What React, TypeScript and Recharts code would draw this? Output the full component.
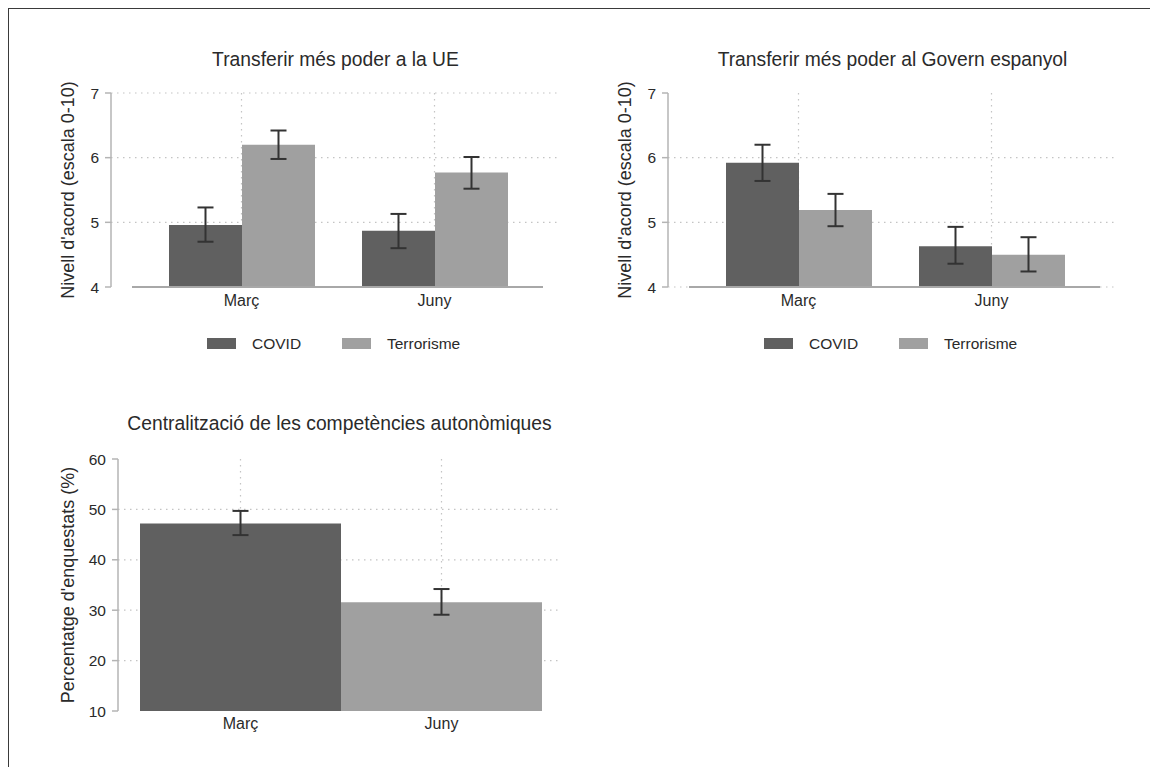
import React from 'react';
import { BarChart, Bar, XAxis, YAxis, CartesianGrid, ErrorBar, Cell, ReferenceLine } from 'recharts';

// ---------- data ----------
const categories = ['Març', 'Juny'];
const seriesNames = ['COVID', 'Terrorisme'];

// Transferir més poder a la UE
const ueCovid = [4.96, 4.87];
const ueCovidLow = [4.70, 4.60];
const ueCovidHigh = [5.23, 5.13];
const ueTerror = [6.20, 5.77];
const ueTerrorLow = [5.98, 5.52];
const ueTerrorHigh = [6.42, 6.01];

// Transferir més poder al Govern espanyol
const govCovid = [5.92, 4.63];
const govCovidLow = [5.64, 4.36];
const govCovidHigh = [6.20, 4.93];
const govTerror = [5.19, 4.50];
const govTerrorLow = [4.94, 4.24];
const govTerrorHigh = [5.44, 4.77];

// Centralització de les competències autonòmiques
const centralValues = [47.2, 31.6];
const centralLow = [44.9, 29.1];
const centralHigh = [49.7, 34.2];

const nivellTicks = [4, 5, 6, 7];
const percentTicks = [10, 20, 30, 40, 50, 60];

const titles = [
  'Transferir més poder a la UE',
  'Transferir més poder al Govern espanyol',
  'Centralització de les competències autonòmiques',
];
const yLabels = ["Nivell d'acord (escala 0-10)", "Percentatge d'enquestats (%)"];

// ---------- style ----------
const FONT = '"Liberation Sans", Arial, Helvetica, sans-serif';
const DARK = '#606060';
const LIGHT = '#a0a0a0';
const TEXT = '#2a2a2a';
const AXIS = '#b4b4b4';
const GRID = '#c4c4c4';
const ERR = '#333333';

const buildPair = (
  a: number[], aLo: number[], aHi: number[],
  b: number[], bLo: number[], bHi: number[]
) =>
  categories.map((c, i) => ({
    cat: c,
    covid: a[i],
    covidErr: [a[i] - aLo[i], aHi[i] - a[i]],
    terr: b[i],
    terrErr: [b[i] - bLo[i], bHi[i] - b[i]],
  }));

const ueData = buildPair(ueCovid, ueCovidLow, ueCovidHigh, ueTerror, ueTerrorLow, ueTerrorHigh);
const govData = buildPair(govCovid, govCovidLow, govCovidHigh, govTerror, govTerrorLow, govTerrorHigh);
const centralData = categories.map((c, i) => ({
  cat: c,
  value: centralValues[i],
  err: [centralValues[i] - centralLow[i], centralHigh[i] - centralValues[i]],
}));

const baselineShape = (props: any) => (
  <line
    x1={props.x1 + 21}
    x2={props.x2 - 17}
    y1={props.y1}
    y2={props.y2}
    stroke="#a8a8a8"
    strokeWidth={2}
  />
);

const YLabel = ({ cx, cy, text }: { cx: number; cy: number; text: string }) => (
  <div
    style={{
      position: 'absolute',
      left: cx,
      top: cy,
      transform: 'translate(-50%, -50%) rotate(-90deg)',
      whiteSpace: 'nowrap',
      fontSize: 18,
      lineHeight: '22px',
      color: TEXT,
      fontFamily: FONT,
    }}
  >
    {text}
  </div>
);

const Title = ({ left, width, top, text }: { left: number; width: number; top: number; text: string }) => (
  <div
    style={{
      position: 'absolute',
      left,
      top,
      width,
      textAlign: 'center',
      whiteSpace: 'nowrap',
      fontSize: 19.3,
      lineHeight: '22px',
      color: TEXT,
      fontFamily: FONT,
    }}
  >
    {text}
  </div>
);

const LegendBlock = ({ left, top }: { left: number; top: number }) => {
  const box = (l: number, color: string) => (
    <div style={{ position: 'absolute', left: l, top: 3, width: 29, height: 11, background: color }} />
  );
  const label = (l: number, t: string) => (
    <div
      style={{
        position: 'absolute',
        left: l,
        top: 0,
        fontSize: 15.5,
        lineHeight: '18px',
        color: TEXT,
        fontFamily: FONT,
        whiteSpace: 'nowrap',
      }}
    >
      {t}
    </div>
  );
  return (
    <div style={{ position: 'absolute', left, top, width: 300, height: 20 }}>
      {box(0, DARK)}
      {label(45, seriesNames[0])}
      {box(135, LIGHT)}
      {label(180, seriesNames[1])}
    </div>
  );
};

const PairChart = ({
  offset,
  data,
  gridValues,
  title,
}: {
  offset: number;
  data: any[];
  gridValues: number[];
  title: string;
}) => (
  <>
    <div style={{ position: 'absolute', left: offset, top: 0 }}>
      <BarChart
        width={580}
        height={330}
        data={data}
        margin={{ top: 93, right: 20, left: 60, bottom: 13 }}
        barCategoryGap={24}
        barGap={0}
      >
        <CartesianGrid
          stroke={GRID}
          strokeDasharray="1.5 4.5"
          strokeWidth={1.2}
          horizontalValues={gridValues}
          syncWithTicks
        />
        <XAxis
          dataKey="cat"
          type="category"
          padding={{ left: 34, right: 29 }}
          axisLine={false}
          tickLine={false}
          tickSize={0}
          tickMargin={8}
          height={30}
          tick={{ fill: TEXT, fontSize: 16, fontFamily: FONT }}
        />
        <YAxis
          type="number"
          domain={[4, 7]}
          ticks={nivellTicks}
          interval={0}
          width={51}
          axisLine={{ stroke: AXIS, strokeWidth: 1.5 }}
          tickLine={{ stroke: AXIS, strokeWidth: 1.5 }}
          tickSize={6}
          tickMargin={6}
          tick={{ fill: TEXT, fontSize: 15.5, fontFamily: FONT }}
        />
        <ReferenceLine y={4} shape={baselineShape} />
        <Bar dataKey="covid" fill={DARK} isAnimationActive={false}>
          <ErrorBar dataKey="covidErr" width={8} strokeWidth={2} stroke={ERR} direction="y" isAnimationActive={false} />
        </Bar>
        <Bar dataKey="terr" fill={LIGHT} isAnimationActive={false}>
          <ErrorBar dataKey="terrErr" width={8} strokeWidth={2} stroke={ERR} direction="y" isAnimationActive={false} />
        </Bar>
      </BarChart>
    </div>
    <Title left={offset + 111} width={449} top={49} text={title} />
    <YLabel cx={offset + 68} cy={190} text={yLabels[0]} />
    <LegendBlock left={offset + 207} top={335} />
  </>
);

export default function App() {
  return (
    <div
      style={{
        position: 'relative',
        width: 1150,
        height: 767,
        overflow: 'hidden',
        background: '#ffffff',
        fontFamily: FONT,
      }}
    >
      <style>{'body{margin:0;}'}</style>
      <div
        style={{
          position: 'absolute',
          left: 8,
          top: 8,
          width: 2000,
          height: 2000,
          borderTop: '1.5px solid #3a3a3a',
          borderLeft: '1.5px solid #3a3a3a',
        }}
      />

      <PairChart offset={0} data={ueData} gridValues={[5, 6, 7]} title={titles[0]} />
      <PairChart offset={557} data={govData} gridValues={[4, 5, 6]} title={titles[1]} />

      {/* Bottom chart */}
      <div style={{ position: 'absolute', left: 0, top: 400 }}>
        <BarChart
          width={580}
          height={360}
          data={centralData}
          margin={{ top: 59, right: 19, left: 67, bottom: 19 }}
          barCategoryGap={0}
          barGap={0}
        >
          <CartesianGrid
            stroke={GRID}
            strokeDasharray="1.5 4.5"
            strokeWidth={1.2}
            horizontalValues={[20, 30, 40, 50]}
            syncWithTicks
          />
          <XAxis
            dataKey="cat"
            type="category"
            padding={{ left: 22, right: 19 }}
            axisLine={false}
            tickLine={false}
            tickSize={0}
            tickMargin={7}
            height={30}
            tick={{ fill: TEXT, fontSize: 16, fontFamily: FONT }}
          />
          <YAxis
            type="number"
            domain={[10, 60]}
            ticks={percentTicks}
            interval={0}
            width={51}
            axisLine={{ stroke: AXIS, strokeWidth: 1.5 }}
            tickLine={{ stroke: AXIS, strokeWidth: 1.5 }}
            tickSize={6}
            tickMargin={6}
            tick={{ fill: TEXT, fontSize: 15.5, fontFamily: FONT }}
          />
          <Bar dataKey="value" isAnimationActive={false}>
            {centralData.map((d, i) => (
              <Cell key={d.cat} fill={i === 0 ? DARK : LIGHT} />
            ))}
            <ErrorBar dataKey="err" width={8} strokeWidth={2} stroke={ERR} direction="y" isAnimationActive={false} />
          </Bar>
        </BarChart>
      </div>
      <Title left={118} width={443} top={413} text={titles[2]} />
      <YLabel cx={68} cy={585} text={yLabels[1]} />
    </div>
  );
}
